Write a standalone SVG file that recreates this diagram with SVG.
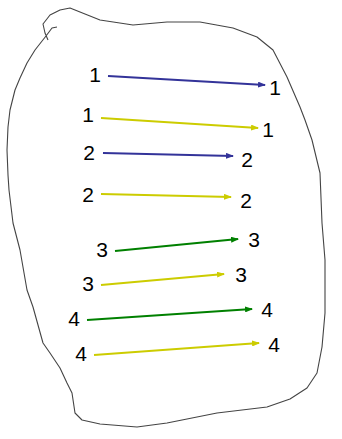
<svg xmlns="http://www.w3.org/2000/svg" width="342" height="439" viewBox="0 0 342 439">
<defs>
<marker id="hb" markerWidth="8" markerHeight="6" refX="7" refY="3" orient="auto" markerUnits="userSpaceOnUse"><path d="M0,0 L8,3 L0,6 Z" fill="#333399"/></marker>
<marker id="hy" markerWidth="8" markerHeight="6" refX="7" refY="3" orient="auto" markerUnits="userSpaceOnUse"><path d="M0,0 L8,3 L0,6 Z" fill="#cccc00"/></marker>
<marker id="hg" markerWidth="8" markerHeight="6" refX="7" refY="3" orient="auto" markerUnits="userSpaceOnUse"><path d="M0,0 L8,3 L0,6 Z" fill="#008000"/></marker>
</defs>
<style>
.t{font-family:"Liberation Sans",Arial,sans-serif;font-size:21px;fill:#000;text-anchor:middle}
.c{fill:none;stroke-width:2.2}
.b{stroke:#333399;marker-end:url(#hb)}
.y{stroke:#cccc00;marker-end:url(#hy)}
.g{stroke:#008000;marker-end:url(#hg)}
.o{fill:none;stroke:#444;stroke-width:1.1;stroke-linejoin:round}
</style>
<rect width="342" height="439" fill="#fff"/>
<g id="outline">
<path class="o" d="M57,27 L52,28 L46,36 L35,50 L27,63 L20,78 L15,90 L10,110 L8,127 L7,150 L8,175 L9,190 L13,223 L20,250 L27,290 L33,307 L38,325 L43,343 L50,353 L60,368 L67,383 L72,393 L75,413 L82,420 L100,424 L137,427 L167,423 L217,413 L267,407 L290,399 L307,388 L317,373 L322,347 L325,313 L325,280 L325,260 L322,223 L320,173 L312,140 L305,120 L300,107 L287,77 L273,50 L257,37 L233,28 L200,22 L167,22 L133,25 L100,20 L80,12 L70,8 L60,10 L50,15 L43,24 L45,33 L48,40"/>
</g>
<g id="connectors">
<line class="c b" x1="108" y1="76" x2="265" y2="85"/>
<line class="c y" x1="101" y1="118" x2="258" y2="128"/>
<line class="c b" x1="103" y1="153" x2="233" y2="156"/>
<line class="c y" x1="101" y1="194" x2="231" y2="197"/>
<line class="c g" x1="115" y1="251" x2="238" y2="239"/>
<line class="c y" x1="101" y1="285" x2="224" y2="274"/>
<line class="c g" x1="87" y1="320" x2="252" y2="309"/>
<line class="c y" x1="94" y1="355" x2="259" y2="343"/>
</g>
<g id="n1a"><text class="t" x="95" y="82">1</text></g>
<g id="n1b"><text class="t" x="275" y="95">1</text></g>
<g id="n1c"><text class="t" x="88" y="122">1</text></g>
<g id="n1d"><text class="t" x="268" y="137">1</text></g>
<g id="n2a"><text class="t" x="89" y="160">2</text></g>
<g id="n2b"><text class="t" x="247" y="167">2</text></g>
<g id="n2c"><text class="t" x="88" y="202">2</text></g>
<g id="n2d"><text class="t" x="246" y="208">2</text></g>
<g id="n3a"><text class="t" x="102" y="257">3</text></g>
<g id="n3b"><text class="t" x="254" y="247">3</text></g>
<g id="n3c"><text class="t" x="88" y="291">3</text></g>
<g id="n3d"><text class="t" x="241" y="282">3</text></g>
<g id="n4a"><text class="t" x="74" y="326">4</text></g>
<g id="n4b"><text class="t" x="267" y="317">4</text></g>
<g id="n4c"><text class="t" x="81" y="361">4</text></g>
<g id="n4d"><text class="t" x="274" y="352">4</text></g>
</svg>
